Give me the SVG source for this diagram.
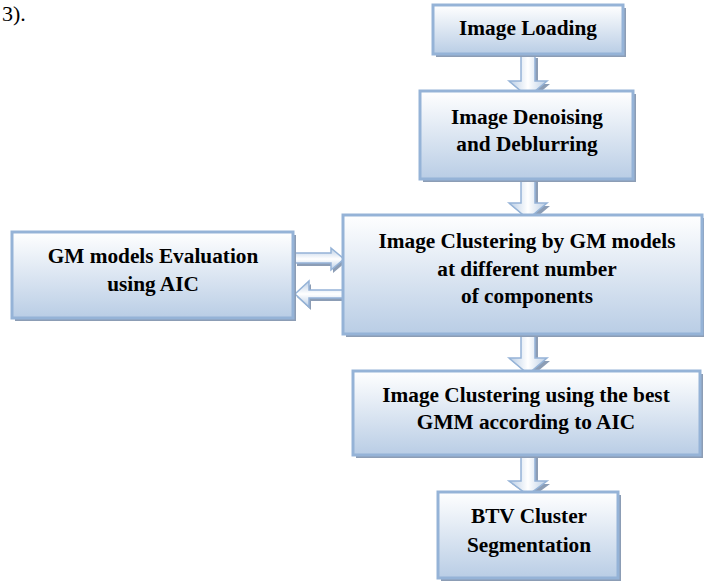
<svg xmlns="http://www.w3.org/2000/svg" width="704" height="583" viewBox="0 0 704 583">
<defs>
<linearGradient id="g" x1="0" y1="0" x2="0" y2="1">
<stop offset="0" stop-color="#ffffff"/>
<stop offset="1" stop-color="#b9cde5"/>
</linearGradient>
<linearGradient id="gh" x1="0" y1="0" x2="1" y2="0">
<stop offset="0" stop-color="#b9cde5"/>
<stop offset="0.5" stop-color="#ffffff"/>
<stop offset="1" stop-color="#b9cde5"/>
</linearGradient>
<linearGradient id="gv" x1="0" y1="0" x2="0" y2="1">
<stop offset="0" stop-color="#b9cde5"/>
<stop offset="0.5" stop-color="#ffffff"/>
<stop offset="1" stop-color="#b9cde5"/>
</linearGradient>
</defs>
<style>
.box{fill:url(#g);stroke:#95b3d7;stroke-width:3}
.sh{fill:#8c9db5}
.t{font-family:"Liberation Serif","Times New Roman",serif;font-weight:bold;font-size:21.3px;fill:#000;text-anchor:middle}
.av{fill:url(#gh);stroke:#95b3d7;stroke-width:1.5}
.ah{fill:url(#gv);stroke:#95b3d7;stroke-width:1.5}
.ash{fill:#8c9db5}
</style>
<text x="2" y="21" font-family="Liberation Serif,serif" font-size="22" fill="#000">3).</text>
<g id="connectors">
<g id="a1">
<path class="ash" d="M524,58 H538 V84 H550 L531,100 L512,84 H524 Z"/>
<path class="av" d="M521,55 H535 V81 H547 L528,97 L509,81 H521 Z"/>
</g>
<g id="a2">
<path class="ash" d="M524,182 H538 V206 H550 L531,222 L512,206 H524 Z"/>
<path class="av" d="M521,179 H535 V203 H547 L528,219 L509,203 H521 Z"/>
</g>
<g id="a3">
<path class="ash" d="M524,337 H538 V361 H550 L531,377 L512,361 H524 Z"/>
<path class="av" d="M521,334 H535 V358 H547 L528,374 L509,358 H521 Z"/>
</g>
<g id="a4">
<path class="ash" d="M524,458 H538 V484 H550 L531,498 L512,484 H524 Z"/>
<path class="av" d="M521,455 H535 V481 H547 L528,495 L509,481 H521 Z"/>
</g>
<g id="a5">
<path class="ash" d="M297,256 H333 V251 L346,262 L333,273 V266 H297 Z"/>
<path class="ah" d="M295,253 H331 V248 L344,259 L331,270 V263 H295 Z"/>
</g>
<g id="a6">
<path class="ash" d="M345,293 H311 V284 L297,297 L311,310 V301 H345 Z"/>
<path class="ah" d="M343,290 H309 V281 L295,294 L309,307 V298 H343 Z"/>
</g>
</g>
<g id="n1">
<rect class="sh" x="436" y="8" width="190" height="49"/>
<rect class="box" x="433" y="5" width="190" height="49"/>
<text class="t" x="528" y="35">Image Loading</text>
</g>
<g id="n2">
<rect class="sh" x="423" y="94" width="213" height="88"/>
<rect class="box" x="420" y="91" width="213" height="88"/>
<text class="t" x="527" y="124">Image Denoising</text>
<text class="t" x="527" y="151">and Deblurring</text>
</g>
<g id="n3">
<rect class="sh" x="346" y="218" width="359" height="119"/>
<rect class="box" x="343" y="215" width="359" height="119"/>
<text class="t" x="527" y="248">Image Clustering by GM models</text>
<text class="t" x="527" y="276">at different number</text>
<text class="t" x="527" y="303">of components</text>
</g>
<g id="n4">
<rect class="sh" x="15" y="235" width="281" height="86"/>
<rect class="box" x="12" y="232" width="281" height="86"/>
<text class="t" x="153" y="263">GM models Evaluation</text>
<text class="t" x="153" y="291">using AIC</text>
</g>
<g id="n5">
<rect class="sh" x="356" y="374" width="347" height="84"/>
<rect class="box" x="353" y="371" width="347" height="84"/>
<text class="t" x="526" y="402">Image Clustering using the best</text>
<text class="t" x="526" y="429">GMM according to AIC</text>
</g>
<g id="n6">
<rect class="sh" x="441" y="495" width="180" height="86"/>
<rect class="box" x="438" y="492" width="180" height="86"/>
<text class="t" x="529" y="523">BTV Cluster</text>
<text class="t" x="529" y="552">Segmentation</text>
</g>
</svg>
